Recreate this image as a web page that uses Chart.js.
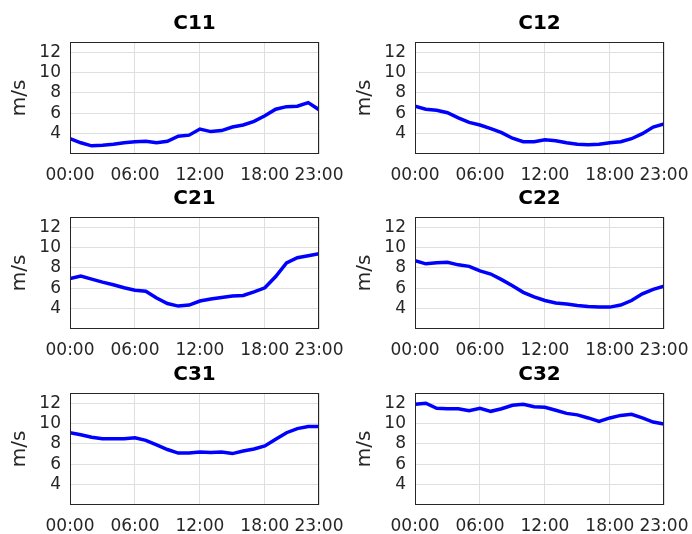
<!DOCTYPE html>
<html>
<head>
<meta charset="utf-8">
<script src="https://cdn.jsdelivr.net/npm/chart.js@4/dist/chart.umd.min.js"></script>
<style>
    html, body { margin: 0; padding: 0; background: #ffffff; }
    #wrap { position: relative; width: 692px; height: 534px; overflow: hidden; }
    .cell { position: absolute; width: 346px; height: 185px; }
</style>
</head>
<body>
<div id="wrap"></div>
<script>
// Data dari gambar (kecepatan angin per jam)

const hours = [0, 1, 2, 3, 4, 5, 6, 7, 8, 9, 10, 11, 12, 13, 14, 15, 16, 17, 18, 19, 20, 21, 22, 23];
const xTicks = [0, 6, 12, 18, 23];
const yTicks = [4, 6, 8, 10, 12];
const titles = ['C11', 'C12', 'C21', 'C22', 'C31', 'C32'];

const c11 = [3.5, 3.1, 2.8, 2.85, 2.95, 3.1, 3.2, 3.25, 3.1, 3.25, 3.75, 3.85, 4.45, 4.2, 4.3, 4.65, 4.85, 5.2, 5.75, 6.4, 6.65, 6.7, 7.05, 6.35];
const c12 = [6.7, 6.4, 6.3, 6.05, 5.55, 5.1, 4.85, 4.5, 4.1, 3.55, 3.2, 3.2, 3.4, 3.3, 3.1, 2.95, 2.9, 2.95, 3.1, 3.2, 3.5, 4.0, 4.65, 4.95];
const c21 = [6.95, 7.2, 6.9, 6.6, 6.35, 6.05, 5.8, 5.7, 5.05, 4.5, 4.25, 4.35, 4.75, 4.95, 5.1, 5.25, 5.3, 5.65, 6.05, 7.15, 8.5, 9.0, 9.2, 9.4];
const c22 = [8.7, 8.4, 8.5, 8.55, 8.3, 8.15, 7.7, 7.4, 6.85, 6.25, 5.6, 5.15, 4.8, 4.55, 4.45, 4.3, 4.2, 4.15, 4.15, 4.35, 4.8, 5.45, 5.9, 6.2];
const c31 = [9.1, 8.9, 8.65, 8.5, 8.5, 8.5, 8.6, 8.35, 7.9, 7.45, 7.1, 7.1, 7.2, 7.15, 7.2, 7.05, 7.3, 7.5, 7.8, 8.45, 9.1, 9.5, 9.7, 9.7];
const c32 = [11.9, 12.0, 11.5, 11.45, 11.45, 11.25, 11.5, 11.2, 11.45, 11.8, 11.9, 11.65, 11.6, 11.3, 11.0, 10.85, 10.55, 10.2, 10.55, 10.8, 10.9, 10.55, 10.15, 9.95];

const series = [c11, c12, c21, c22, c31, c32];

// Kotak penuh di sekeliling area plot (gaya MATLAB)
const kotak = {
    id: 'kotak',
    afterDraw(chart) {
        const a = chart.chartArea;
        const ctx = chart.ctx;
        ctx.save();
        ctx.strokeStyle = '#262626';
        ctx.lineWidth = 1;
        ctx.strokeRect(Math.round(a.left) + 0.5, Math.round(a.top) + 0.5,
            Math.round(a.right - a.left) - 1, Math.round(a.bottom - a.top) - 1);
        ctx.restore();
    }
};

const wrap = document.getElementById('wrap');
const rowTops = [0, 175, 351];
const colLefts = [0, 345];

series.forEach(function(vals, i) {
    const cell = document.createElement('div');
    cell.className = 'cell';
    cell.style.left = colLefts[i % 2] + 'px';
    cell.style.top = rowTops[Math.floor(i / 2)] + 'px';
    const canvas = document.createElement('canvas');
    canvas.width = 346;
    canvas.height = 185;
    cell.appendChild(canvas);
    wrap.appendChild(cell);

    new Chart(canvas, {
        type: 'line',
        data: {
            datasets: [{
                data: hours.map((h, k) => ({ x: h, y: vals[k] })),
                borderColor: '#0000ff',
                borderWidth: 3.5,
                pointRadius: 0,
                tension: 0,
                fill: false
            }]
        },
        options: {
            responsive: false,
            animation: false,
            layout: { padding: { left: 0, right: 27, top: 0, bottom: 0 } },
            plugins: {
                legend: { display: false },
                tooltip: { enabled: false },
                title: {
                    display: true,
                    fullSize: false,
                    text: titles[i],
                    color: '#000000',
                    font: { family: 'DejaVu Sans', size: 20, weight: 'bold' },
                    padding: { top: 12, bottom: 6 }
                }
            },
            scales: {
                x: {
                    type: 'linear',
                    min: 0,
                    max: 23,
                    afterBuildTicks: s => { s.ticks = xTicks.map(v => ({ value: v })); },
                    afterFit: s => { s.height = 31; s.paddingLeft = 0; s.paddingRight = 0; },
                    ticks: {
                        autoSkip: false,
                        minRotation: 0,
                        maxRotation: 0,
                        padding: 11,
                        color: '#262626',
                        font: { family: 'DejaVu Sans', size: 17 },
                        callback: v => String(v).padStart(2, '0') + ':00'
                    },
                    grid: { color: '#dfdfdf', drawTicks: false },
                    border: { display: false }
                },
                y: {
                    min: 2,
                    max: 13,
                    afterBuildTicks: s => { s.ticks = yTicks.map(v => ({ value: v })); },
                    afterFit: s => { s.width = 70; },
                    ticks: {
                        padding: 9,
                        color: '#262626',
                        font: { family: 'DejaVu Sans', size: 17 }
                    },
                    grid: { color: '#dfdfdf', drawTicks: false },
                    border: { display: false },
                    title: {
                        display: true,
                        text: 'm/s',
                        color: '#262626',
                        font: { family: 'DejaVu Sans', size: 20 },
                        padding: { top: 8, bottom: 0 }
                    }
                }
            }
        },
        plugins: [kotak]
    });
});
</script>
</body>
</html>
